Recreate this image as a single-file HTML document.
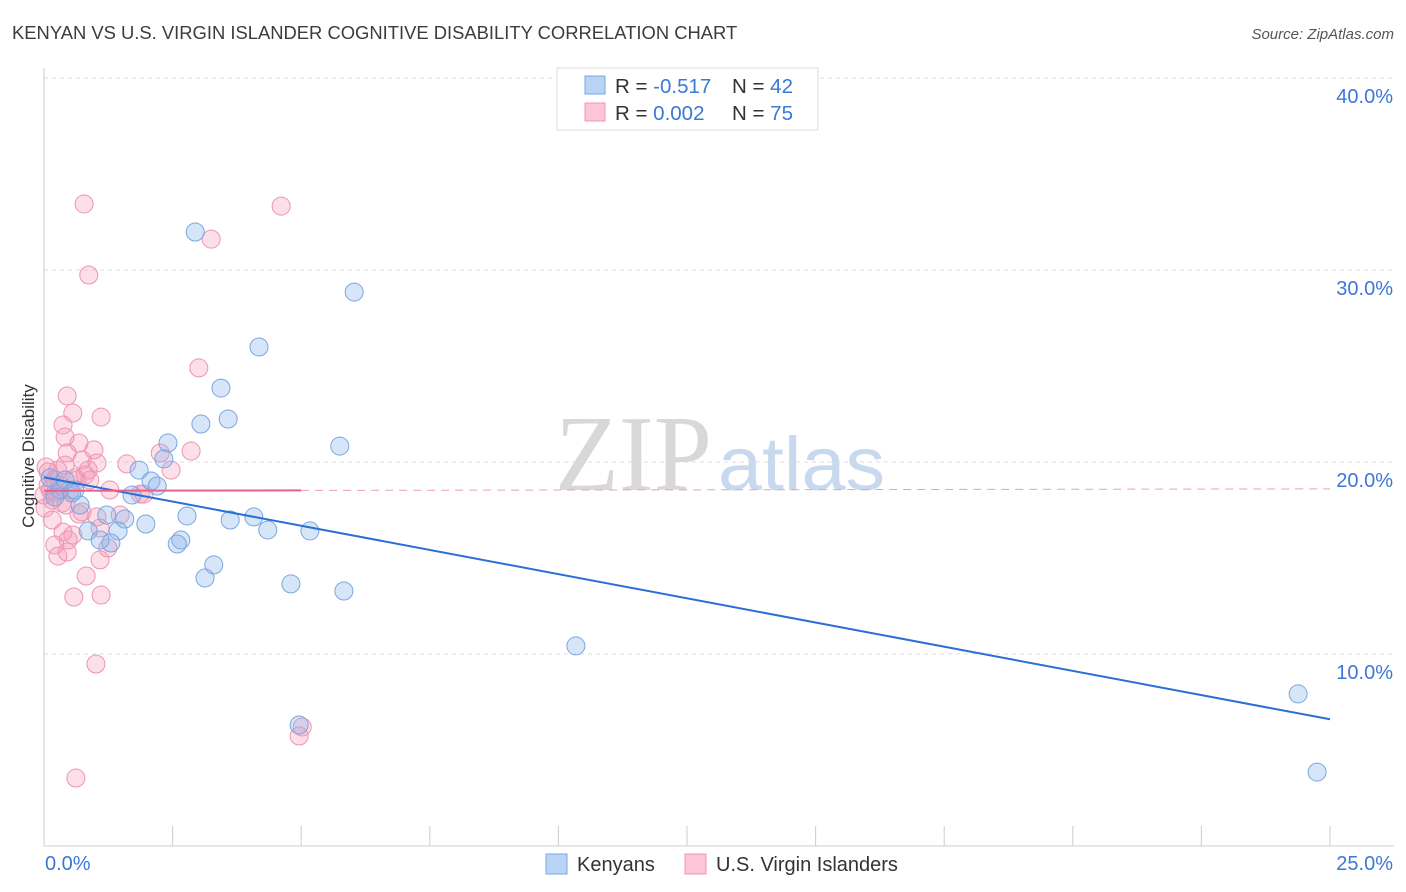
<!DOCTYPE html>
<html><head><meta charset="utf-8"><style>
body{margin:0;background:#fff;font-family:"Liberation Sans",sans-serif;}
svg{display:block}
</style></head><body>
<svg id="chart" width="1406" height="892">
<text x="12" y="39" font-size="18.4" fill="#3c3c3c">KENYAN VS U.S. VIRGIN ISLANDER COGNITIVE DISABILITY CORRELATION CHART</text>
<text x="1394" y="39" font-size="15" fill="#555" font-style="italic" text-anchor="end">Source: ZipAtlas.com</text>
<g>
<text x="555" y="490" font-size="108" font-family="Liberation Serif,serif" fill="#d8d8d8" textLength="157" lengthAdjust="spacingAndGlyphs">ZIP</text>
<text x="718" y="490" font-size="76" fill="#c8d8ee" textLength="167" lengthAdjust="spacingAndGlyphs">atlas</text>
</g>
<g id="grid"></g>
<g id="axes"></g>
<g id="marks"></g>
<text transform="translate(34,456) rotate(-90)" font-size="17" fill="#333" text-anchor="middle">Cognitive Disability</text>
<g>
<rect x="557" y="68" width="261" height="62" fill="#fff" stroke="#ddd"/>
<rect x="585" y="76" width="20" height="18" fill="#b9d3f5" stroke="#7aa7e0"/>
<rect x="585" y="103" width="20" height="18" fill="#fcc6d6" stroke="#ee94b1"/>
<text x="615" y="93" font-size="20.5" fill="#333">R = <tspan fill="#3b78d8">-0.517</tspan><tspan x="732">N = </tspan><tspan fill="#3b78d8">42</tspan></text>
<text x="615" y="120" font-size="20.5" fill="#333">R = <tspan fill="#3b78d8"> 0.002</tspan><tspan x="732">N = </tspan><tspan fill="#3b78d8">75</tspan></text>
</g>
<g>
<rect x="546" y="854" width="21" height="20" fill="#b9d3f5" stroke="#7aa7e0"/>
<text x="577" y="871" font-size="20" fill="#333">Kenyans</text>
<rect x="685" y="854" width="21" height="20" fill="#fcc6d6" stroke="#ee94b1"/>
<text x="716" y="871" font-size="20" fill="#333">U.S. Virgin Islanders</text>
</g>
</svg>
<script>
const yTicks=[10,20,30,40];
const yTickLabels=["10.0%","20.0%","30.0%","40.0%"];
const xTicks=[0,2.5,5,7.5,10,12.5,15,17.5,20,22.5,25];
const blueX=[2.94,6.03,4.18,3.44,3.58,3.05,2.41,5.75,2.33,1.85,2.08,2.20,1.71,1.22,1.57,1.98,1.44,0.86,2.78,3.62,4.08,4.35,5.17,2.66,2.59,1.30,1.09,3.30,3.13,4.80,5.83,10.34,24.38,24.75,4.96,0.70,0.31,0.12,0.54,0.21,0.41,0.60];
const blueY=[31.98,28.85,25.99,23.85,22.24,21.98,20.99,20.83,20.16,19.58,19.01,18.75,18.28,17.24,17.03,16.77,16.41,16.41,17.19,16.98,17.14,16.46,16.41,15.94,15.73,15.78,15.94,14.64,13.96,13.65,13.28,10.42,7.92,3.85,6.30,17.76,18.54,19.17,18.39,18.18,19.06,18.54];
const pinkX=[0.78,4.61,3.25,0.87,3.01,0.45,0.56,1.11,0.37,0.41,0.68,0.97,0.45,2.26,2.86,0.74,1.03,1.61,2.47,0.80,0.27,0.08,1.87,1.94,0.68,1.03,0.37,0.56,1.24,0.27,0.45,0.82,0.58,1.11,1.01,0.62,4.96,5.02,0.16,0.02,0.31,0.51,0.12,0.04,0.21,0.60,0.89,0.35,0.74,1.48,1.09,0.47,0.21,1.09,0.64,0.41,1.28,0.16,0.08,0.23,0.0,0.43,0.86];
const pinkY=[33.44,33.33,31.61,29.74,24.90,23.44,22.55,22.34,21.93,21.30,20.99,20.63,20.47,20.47,20.57,20.10,19.95,19.90,19.58,19.32,19.58,19.48,18.33,18.33,17.29,17.14,16.35,16.20,15.52,15.10,15.31,14.06,12.97,13.07,9.48,3.54,5.73,6.20,18.02,17.60,18.80,18.54,18.54,19.74,19.06,19.17,19.06,17.86,17.40,17.24,16.56,15.94,15.68,14.90,19.06,19.84,18.54,16.98,18.80,18.44,18.28,17.76,19.58];
const blueFit=[19.2,6.6];
const pinkFit=[18.5,18.6];
const NS="http://www.w3.org/2000/svg";
const X0=44,X1=1330,Y0=846,PX=192/10;
function sx(v){return X0+(X1-X0)*v/25;}
function sy(v){return Y0-v*PX;}
function mk(t,a,p){const e=document.createElementNS(NS,t);for(const k in a)e.setAttribute(k,a[k]);p.appendChild(e);return e;}
const grid=document.getElementById('grid'),axes=document.getElementById('axes'),marks=document.getElementById('marks');
yTicks.forEach((v,i)=>{
 const l=mk('line',{x1:X0,x2:1394,y1:sy(v),y2:sy(v),stroke:'#ddd','stroke-dasharray':'4,4'},grid);
 
 
 const t=mk('text',{x:1393,y:sy(v)+25,'font-size':20,fill:'#3b78d8','text-anchor':'end'},axes);
 t.textContent=yTickLabels[i];
 
 
});
mk('line',{x1:X0,x2:X0,y1:68,y2:Y0,stroke:'#ccc'},axes);
mk('line',{x1:X0,x2:1394,y1:Y0,y2:Y0,stroke:'#ccc'},axes);
xTicks.forEach(v=>{
 const l=mk('line',{x1:sx(v),x2:sx(v),y1:826,y2:Y0,stroke:'#ccc'},axes);
 
 
});
const xl=mk('text',{x:45,y:870,'font-size':20,fill:'#3b78d8'},axes);xl.textContent='0.0%';


const xr=mk('text',{x:1393,y:870,'font-size':20,fill:'#3b78d8','text-anchor':'end'},axes);xr.textContent='25.0%';


pinkX.forEach((x,i)=>{
 const c=mk('circle',{cx:sx(x),cy:sy(pinkY[i]),r:9,fill:'rgba(244,150,180,0.3)',stroke:'#ee94b1','stroke-width':1},marks);
 
 
});
blueX.forEach((x,i)=>{
 const c=mk('circle',{cx:sx(x),cy:sy(blueY[i]),r:9,fill:'rgba(140,180,235,0.35)',stroke:'#7aa7e0','stroke-width':1},marks);
 
 
});
const bl=mk('line',{x1:sx(0),y1:sy(blueFit[0]),x2:sx(25),y2:sy(blueFit[1]),stroke:'#2a6fd6','stroke-width':2},marks);


const pm=pinkFit[0]+(pinkFit[1]-pinkFit[0])*5/25;
const ps=mk('line',{x1:sx(0),y1:sy(pinkFit[0]),x2:sx(5),y2:sy(pm),stroke:'#e8608a','stroke-width':2},marks);


const pd=mk('line',{x1:sx(5),y1:sy(pm),x2:sx(25),y2:sy(pinkFit[1]),stroke:'#e8a0b8','stroke-width':1,'stroke-dasharray':'8,6'},marks);


</script>
</body></html>
